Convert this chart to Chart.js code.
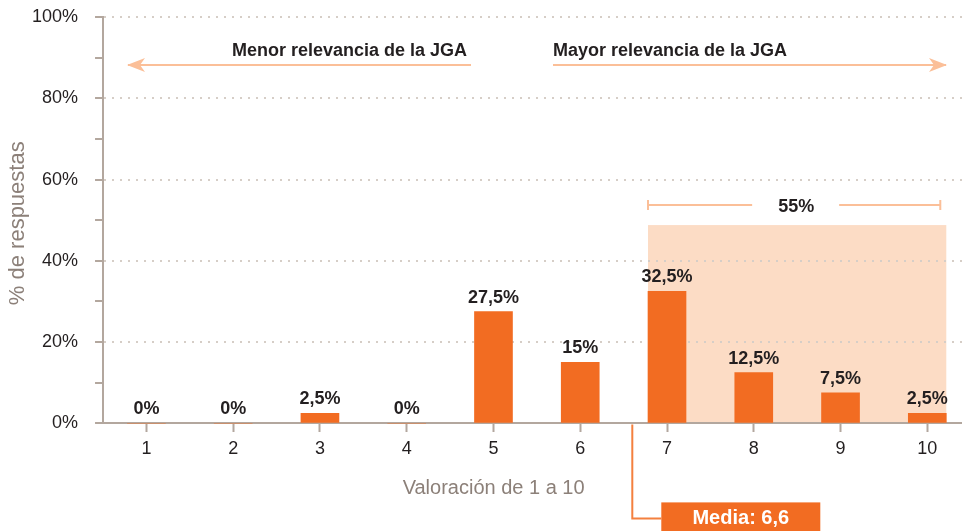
<!DOCTYPE html>
<html>
<head>
<meta charset="utf-8">
<script src="https://cdn.jsdelivr.net/npm/chart.js@4.4.1/dist/chart.umd.min.js"></script>
<style>
  html, body { margin: 0; padding: 0; background: #fff; }
  #wrap { width: 962px; height: 531px; }
</style>
</head>
<body>
<div id="wrap"><canvas id="barchart"></canvas></div>
<script>
// Data
var categories = [1, 2, 3, 4, 5, 6, 7, 8, 9, 10];
var values = [0, 0, 2.5, 0, 27.5, 15, 32.5, 12.5, 7.5, 2.5];
var yTicks = [0, 20, 40, 60, 80, 100];
var mean = 6.6;
var highShare = 55;       // share of answers 7-10
var highBoxTop = 48.8;    // top of the shaded block, in %

var orange = '#f26c22';
var lightOrange = '#fbbf98';
var shade = '#fcdcc5';
var axisColor = '#b3a79e';
var textColor = '#231f20';
var mutedText = '#8c8079';
var fontFamily = "'Liberation Sans', Arial, Helvetica, sans-serif";

function fmt(v) {
    return String(v).replace('.', ',') + '%';
}

// Extra drawing: shaded block, bracket, arrows, labels, mean marker
var extras = {
    id: 'extras',
    beforeDraw: function (chart) {
        var ctx = chart.ctx;
        var y = chart.scales.y;
        var meta = chart.getDatasetMeta(0);
        var b7 = meta.data[6], b10 = meta.data[9];
        var left = b7.x - b7.width / 2;
        var right = b10.x + b10.width / 2;
        var top = y.getPixelForValue(highBoxTop);
        ctx.save();
        ctx.fillStyle = shade;
        ctx.fillRect(left, top, right - left, y.bottom - top);
        ctx.restore();
    },
    afterDraw: function (chart) {
        var ctx = chart.ctx;
        var x = chart.scales.x, y = chart.scales.y;
        var meta = chart.getDatasetMeta(0);
        ctx.save();

        // value labels above bars
        ctx.fillStyle = textColor;
        ctx.font = 'bold 18px ' + fontFamily;
        ctx.textAlign = 'center';
        ctx.textBaseline = 'alphabetic';
        meta.data.forEach(function (bar, i) {
            ctx.fillText(fmt(values[i]), bar.x, bar.y - 9);
        });

        // 55% bracket
        var b7 = meta.data[6], b10 = meta.data[9];
        var bl = b7.x - b7.width / 2, br = b10.x + b10.width / 2 - 6;
        var by = y.getPixelForValue(highBoxTop) - 20;
        var mid = (bl + br) / 2;
        ctx.strokeStyle = lightOrange;
        ctx.lineWidth = 2;
        ctx.beginPath();
        ctx.moveTo(bl, by); ctx.lineTo(mid - 42, by);
        ctx.moveTo(mid + 45, by); ctx.lineTo(br, by);
        ctx.moveTo(bl, by - 5); ctx.lineTo(bl, by + 5);
        ctx.moveTo(br, by - 5); ctx.lineTo(br, by + 5);
        ctx.stroke();
        ctx.textBaseline = 'middle';
        ctx.fillText(highShare + '%', mid + 2, by + 2);

        // top arrows
        var ay = 65;
        var l1 = 128, r1 = 471, l2 = 553, r2 = 946;
        ctx.beginPath();
        ctx.moveTo(l1, ay); ctx.lineTo(r1, ay);
        ctx.moveTo(l2, ay); ctx.lineTo(r2, ay);
        ctx.stroke();
        ctx.fillStyle = lightOrange;
        ctx.beginPath();
        ctx.moveTo(l1 - 1, ay); ctx.lineTo(l1 + 17, ay - 7); ctx.lineTo(l1 + 12, ay); ctx.lineTo(l1 + 17, ay + 7); ctx.closePath();
        ctx.fill();
        ctx.beginPath();
        ctx.moveTo(r2 + 1, ay); ctx.lineTo(r2 - 17, ay - 7); ctx.lineTo(r2 - 12, ay); ctx.lineTo(r2 - 17, ay + 7); ctx.closePath();
        ctx.fill();
        ctx.fillStyle = textColor;
        ctx.font = 'bold 18px ' + fontFamily;
        ctx.textBaseline = 'alphabetic';
        ctx.textAlign = 'right';
        ctx.fillText('Menor relevancia de la JGA', r1 - 4, 56);
        ctx.textAlign = 'left';
        ctx.fillText('Mayor relevancia de la JGA', l2, 56);

        // mean marker
        var mx = x.getPixelForValue(mean);
        var boxL = mx + 29, boxT = y.bottom + 79, boxW = 159, boxH = 34;
        ctx.strokeStyle = '#f4803f';
        ctx.lineWidth = 2;
        ctx.beginPath();
        ctx.moveTo(mx, y.bottom + 1);
        ctx.lineTo(mx, boxT + 16);
        ctx.lineTo(boxL, boxT + 16);
        ctx.stroke();
        ctx.fillStyle = orange;
        ctx.fillRect(boxL, boxT, boxW, boxH);
        ctx.fillStyle = '#fff';
        ctx.font = 'bold 20px ' + fontFamily;
        ctx.textAlign = 'center';
        ctx.textBaseline = 'middle';
        ctx.fillText('Media: ' + String(mean).replace('.', ','), boxL + boxW / 2, boxT + 16);
        ctx.restore();
    }
};

var ctx = document.getElementById('barchart').getContext('2d');

var myBarChart = new Chart(ctx, {
    type: 'bar',
    data: {
        datasets: [{
            label: '% de respuestas',
            data: categories.map(function (c, i) { return { x: c, y: values[i] }; }),
            backgroundColor: orange,
            barThickness: 38
        }]
    },
    options: {
        responsive: true,
        maintainAspectRatio: false,
        animation: false,
        layout: { padding: { top: 17, bottom: 31, left: 0, right: 0 } },
        plugins: {
            legend: { display: false },
            tooltip: { enabled: false }
        },
        scales: {
            x: {
                type: 'linear',
                offset: false,
                min: 0.5,
                max: 10.4,
                afterBuildTicks: function (axis) {
                    axis.ticks = categories.map(function (c) { return { value: c }; });
                },
                grid: {
                    offset: false,
                    drawOnChartArea: false,
                    // long tick slot, only the first 8px next to the axis are drawn
                    tickLength: 15,
                    tickBorderDash: [8, 40],
                    tickColor: axisColor,
                    tickWidth: 2
                },
                border: { color: axisColor, width: 2 },
                ticks: {
                    color: textColor,
                    font: { family: fontFamily, size: 18 },
                    padding: 0,
                    callback: function (v) { return String(v); }
                },
                title: {
                    display: true,
                    // trailing spaces push the centred title to the left, as in the original
                    text: 'Valoración de 1 a 10              ',
                    color: mutedText,
                    font: { family: fontFamily, size: 20 },
                    padding: { top: 16, bottom: 0 }
                }
            },
            y: {
                min: 0,
                max: 100,
                ticks: {
                    stepSize: 10,
                    autoSkip: false,
                    color: textColor,
                    font: { family: fontFamily, size: 18 },
                    padding: 0,
                    callback: function (v) { return yTicks.indexOf(v) >= 0 ? v + '%' : ''; }
                },
                grid: {
                    color: function (c) { return c.tick && yTicks.indexOf(c.tick.value) > 0 ? '#d6cec7' : 'rgba(0,0,0,0)'; },
                    lineWidth: 2,
                    // tick is drawn from the label side towards the axis: skip 17px, draw 8px
                    tickLength: 25,
                    tickBorderDash: [0, 17, 8, 100],
                    tickColor: axisColor,
                    tickWidth: 2
                },
                border: { color: axisColor, width: 2, dash: [2, 6] },
                title: {
                    display: true,
                    text: '% de respuestas ',
                    color: mutedText,
                    font: { family: fontFamily, size: 22 },
                    padding: { top: 5, bottom: 0.6 }
                }
            }
        }
    },
    plugins: [extras]
});
</script>
</body>
</html>
